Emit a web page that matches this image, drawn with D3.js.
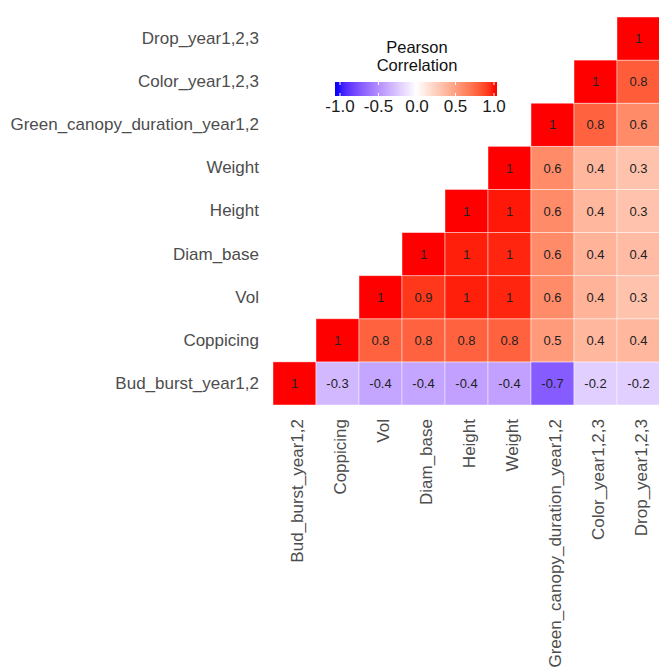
<!DOCTYPE html>
<html><head><meta charset="utf-8">
<script src="https://cdn.jsdelivr.net/npm/d3@7"></script>
<style>html,body{margin:0;padding:0;background:#fff;}svg{display:block;}</style>
</head><body>
<svg id="chart" width="659" height="667"></svg>
<script>
// Variables (bottom-to-top on y, left-to-right on x)
const variables = ["Bud_burst_year1,2","Coppicing","Vol","Diam_base","Height","Weight",
  "Green_canopy_duration_year1,2","Color_year1,2,3","Drop_year1,2,3"];
// Upper-triangle correlations: row variable index, column variable index, r
const rowIdx = [0,0,0,0,0,0,0,0,0, 1,1,1,1,1,1,1,1, 2,2,2,2,2,2,2, 3,3,3,3,3,3, 4,4,4,4,4, 5,5,5,5, 6,6,6, 7,7, 8];
const colIdx = [0,1,2,3,4,5,6,7,8, 1,2,3,4,5,6,7,8, 2,3,4,5,6,7,8, 3,4,5,6,7,8, 4,5,6,7,8, 5,6,7,8, 6,7,8, 7,8, 8];
const rValues = [
  1,-0.3,-0.38,-0.38,-0.4,-0.4,-0.7,-0.2,-0.2,
  1,0.78,0.78,0.78,0.78,0.52,0.38,0.38,
  1,0.92,0.97,0.96,0.6,0.4,0.32,
  1,0.97,0.96,0.6,0.4,0.36,
  1,0.98,0.6,0.38,0.32,
  1,0.6,0.38,0.32,
  1,0.78,0.6,
  1,0.8,
  1];
const legendTicks = [-1,-0.5,0,0.5,1];
const legendTitle = ["Pearson","Correlation"];

const svg = d3.select("#chart");
const font = "'Liberation Sans', Arial, sans-serif";

const x = d3.scaleBand().domain(variables).range([273, 660]).padding(0);
const y = d3.scaleBand().domain(variables).range([405, 17]).padding(0);
const color = d3.scaleLinear().domain([-1,0,1]).range(["#0000ff","#ffffff","#ff0000"]).interpolate(d3.interpolateLab);

const cells = rValues.map((v,i)=>({row:variables[rowIdx[i]], col:variables[colIdx[i]], v}));
const fmt = v => { const r = Math.round(v*10)/10; return Number.isInteger(r) ? String(r) : r.toFixed(1); };

const g = svg.append("g");
g.selectAll("rect.cell").data(cells).enter().append("rect")
  .attr("class","cell")
  .attr("x", d=>x(d.col)).attr("y", d=>y(d.row))
  .attr("width", x.bandwidth()).attr("height", y.bandwidth())
  .attr("fill", d=>color(d.v))
  .attr("stroke", "rgba(255,255,255,0.55)").attr("stroke-width", 0.8);

g.selectAll("text.val").data(cells).enter().append("text")
  .attr("x", d=>x(d.col)+x.bandwidth()/2)
  .attr("y", d=>y(d.row)+y.bandwidth()/2)
  .attr("dy","0.36em")
  .attr("text-anchor","middle")
  .attr("font-family", font).attr("font-size", 13).attr("fill","#222")
  .text(d=>fmt(d.v));

// Y axis labels
const yAxis = d3.axisLeft(y).tickSize(0).tickPadding(14);
const ya = svg.append("g").attr("transform","translate(273,0)").call(yAxis);
ya.select(".domain").remove();
ya.selectAll("text").attr("font-family", font).attr("font-size", 17).attr("fill","#4d4d4d");

// X axis labels (rotated)
const xAxis = d3.axisBottom(x).tickSize(0).tickPadding(0);
const xa = svg.append("g").attr("transform","translate(0,405)").call(xAxis);
xa.select(".domain").remove();
xa.selectAll("text")
  .attr("font-family", font).attr("font-size", 17).attr("fill","#4d4d4d")
  .attr("transform","rotate(-90)")
  .attr("text-anchor","end")
  .attr("x", -14).attr("y", 2).attr("dy","0.36em");

// Legend
const lx = d3.scaleLinear().domain([-1,1]).range([340, 494]);
const defs = svg.append("defs");
const grad = defs.append("linearGradient").attr("id","lg").attr("x1","0%").attr("x2","100%");
d3.range(0,1.0001,0.02).forEach(t=>{
  grad.append("stop").attr("offset", (t*100)+"%").attr("stop-color", color(-1.03+2.06*t));
});
svg.append("rect").attr("x",335).attr("y",82).attr("width",162).attr("height",14).attr("fill","url(#lg)");
svg.selectAll("line.lt").data(legendTicks).enter().append("line")
  .attr("x1",d=>lx(d)).attr("x2",d=>lx(d)).attr("y1",82).attr("y2",85)
  .attr("stroke","#fff").attr("stroke-width",1);
svg.selectAll("line.lb").data(legendTicks).enter().append("line")
  .attr("x1",d=>lx(d)).attr("x2",d=>lx(d)).attr("y1",93).attr("y2",96)
  .attr("stroke","#fff").attr("stroke-width",1);
svg.selectAll("text.lt").data(legendTicks).enter().append("text")
  .attr("x",d=>lx(d)).attr("y",112)
  .attr("text-anchor","middle")
  .attr("font-family", font).attr("font-size", 17).attr("fill","#1a1a1a")
  .text(d=>d3.format(".1f")(d).replace("−","-"));
svg.selectAll("text.title").data(legendTitle).enter().append("text")
  .attr("x",417).attr("y",(d,i)=>53+i*18)
  .attr("text-anchor","middle")
  .attr("font-family", font).attr("font-size", 16.5).attr("fill","#111")
  .text(d=>d);
</script>
</body></html>
